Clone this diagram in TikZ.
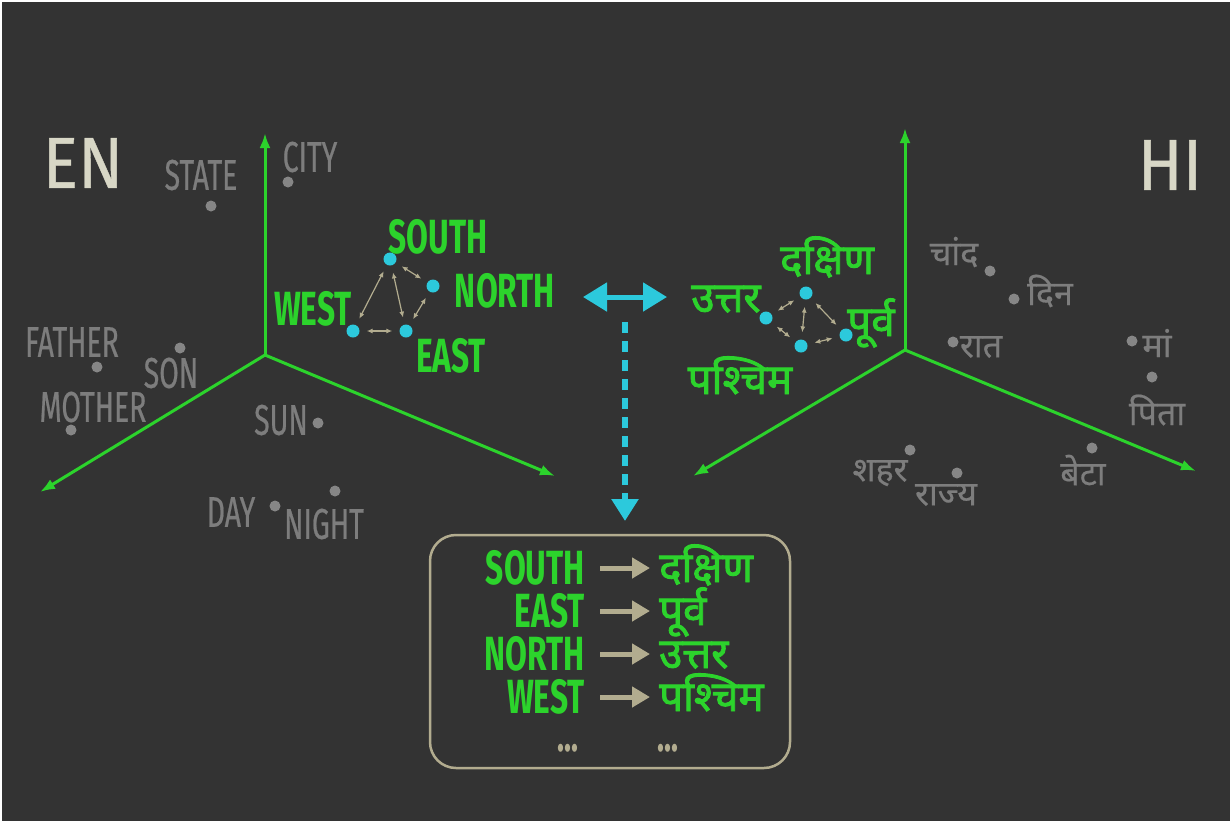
\documentclass[tikz,border=0pt]{standalone}
\usepackage{fontspec}
\setmainfont{Fira Sans}[FakeStretch=0.66]
\newfontfamily\grayfont{Fira Sans}[FakeStretch=0.66, FakeBold=0.5]
\newfontfamily\langfont{Fira Sans}[FakeStretch=0.92, FakeBold=0.6]
\newfontfamily\hindi[Script=Devanagari, FakeBold=0.5]{Noto Sans}
\newfontfamily\hindibold[Script=Devanagari, FakeBold=2]{Noto Sans}
\usetikzlibrary{arrows.meta}

\definecolor{bgdark}{HTML}{333333}
\definecolor{wordgreen}{HTML}{2CD32C}
\definecolor{wordgray}{HTML}{7D7D7D}
\definecolor{dotgray}{HTML}{868686}
\definecolor{langbeige}{HTML}{D8D7C6}
\definecolor{dotcyan}{HTML}{2CC9DC}
\definecolor{linktan}{HTML}{B2AC8F}

\begin{document}
\begin{tikzpicture}[x=1pt, y=-1pt,
  axis/.style={draw=wordgreen, line width=3pt, -{Latex[length=15pt,width=11pt]}},
  langlabel/.style={text=langbeige, font=\langfont\fontsize{72}{72}\selectfont, inner sep=0pt},
  grayword/.style={text=wordgray, font=\grayfont\fontsize{43}{43}\selectfont, inner sep=0pt},
  grayhindi/.style={text=wordgray, font=\hindi\fontsize{34}{34}\selectfont, inner sep=0pt},
  greenword/.style={text=wordgreen, font=\bfseries\fontsize{48}{48}\selectfont, inner sep=0pt, text height=32pt, text depth=0pt},
  greenhindi/.style={text=wordgreen, font=\hindibold\fontsize{42}{42}\selectfont, inner sep=0pt, text height=28pt, text depth=0pt},
  graydot/.style={circle, fill=dotgray, minimum size=11pt, inner sep=0pt},
  cyandot/.style={circle, fill=dotcyan, minimum size=13pt, inner sep=0pt},
  link/.style={draw=linktan, line width=1.2pt, {Latex[length=6pt,width=5pt]}-{Latex[length=6pt,width=5pt]}, shorten <=7pt, shorten >=7pt},
  maparrow/.style={draw=dotcyan, line width=5pt, {Triangle[length=24pt,width=28pt]}-{Triangle[length=24pt,width=28pt]}},
  dashlink/.style={draw=dotcyan, line width=6pt, dash pattern=on 11pt off 8pt, -{Triangle[length=22pt,width=26pt]}},
  rowarrow/.style={draw=linktan, line width=5pt, -{Triangle[length=18pt,width=20pt]}, shorten <=15pt, shorten >=9pt},
  ellipsis/.style={text=linktan, font=\bfseries\fontsize{44}{44}\selectfont, inner sep=0pt, text height=6pt, text depth=0pt}]

\useasboundingbox (0,0) rectangle (1232,823);
\fill[white] (0,0) rectangle (1232,823);
\fill[bgdark] (2,2) rectangle (1230,821);

% language labels
\node[langlabel] (en) at (83,163) {EN};
\node[langlabel] (hi) at (1170,165) {HI};

% english space
\coordinate (lo) at (265,355);
\coordinate (lup) at (265,133);
\coordinate (lleft) at (40,492);
\coordinate (lright) at (555,476);
\draw[axis] (lo) -- (lup);
\draw[axis] (lo) -- (lleft);
\draw[axis] (lo) -- (lright);

\foreach \name/\wx/\wy/\dx/\dy/\txt in {State/201/175/211/206/STATE, City/310/157/288/182/CITY,
    Father/72/342/97/367/FATHER, Son/171/373/180/348/SON, Mother/93/407/71/430/MOTHER,
    Sun/281/420/318/423/SUN, Day/231/512/275/506/DAY, Night/324/524/335/491/NIGHT} {
  \node[grayword] (w\name) at (\wx,\wy) {\txt};
  \node[graydot] (d\name) at (\dx,\dy) {};
}

\node[cyandot] (south) at (390,259) {};
\node[cyandot] (north) at (433,286) {};
\node[cyandot] (west) at (353,331) {};
\node[cyandot] (east) at (406,331) {};
\node[greenword] (southW) at (438,237) {SOUTH};
\node[greenword] (northW) at (505,291) {NORTH};
\node[greenword] (westW) at (313,309) {WEST};
\node[greenword] (eastW) at (451,356) {EAST};
\draw[link] (south) -- (north);
\draw[link] (south) -- (west);
\draw[link] (south) -- (east);
\draw[link] (north) -- (east);
\draw[link] (west) -- (east);

% hindi space
\coordinate (ro) at (905,350);
\coordinate (rup) at (905,128);
\coordinate (rleft) at (693,476);
\coordinate (rright) at (1196,471);
\draw[axis] (ro) -- (rup);
\draw[axis] (ro) -- (rleft);
\draw[axis] (ro) -- (rright);

\foreach \name/\wx/\wy/\dx/\dy/\txt in {Moon/954/252/990/271/चांद, Din/1050/291/1014/299/दिन,
    Raat/981/347/953/342/रात, Maa/1157/343/1132/341/मां, Pita/1157/410/1152/377/पिता,
    Beta/1083/470/1092/448/बेटा, Shahar/880/473/910/450/शहर, Rajya/946/495/957/473/राज्य} {
  \node[grayhindi] (w\name) at (\wx,\wy) {\txt};
  \node[graydot] (d\name) at (\dx,\dy) {};
}

\node[cyandot] (dakshin) at (806,293) {};
\node[cyandot] (uttar) at (766,318) {};
\node[cyandot] (purv) at (846,335) {};
\node[cyandot] (paschim) at (801,346) {};
\node[greenhindi] (dakshinW) at (827,260) {दक्षिण};
\node[greenhindi] (uttarW) at (726,298) {उत्तर};
\node[greenhindi] (purvW) at (871,322) {पूर्व};
\node[greenhindi] (paschimW) at (740,380) {पश्चिम};
\draw[link] (dakshin) -- (uttar);
\draw[link] (dakshin) -- (paschim);
\draw[link] (dakshin) -- (purv);
\draw[link] (uttar) -- (paschim);
\draw[link] (paschim) -- (purv);

% alignment arrows
\coordinate (mapL) at (583,297);
\coordinate (mapR) at (667,297);
\draw[maparrow] (mapL) -- (mapR);
\coordinate (dashTop) at (625,322);
\coordinate (dashTip) at (625,521);
\draw[dashlink] (dashTop) -- (dashTip);

% dictionary
\node[draw=linktan, line width=2.5pt, rounded corners=26pt, minimum width=360pt, minimum height=233pt] (dict) at (610,651.5) {};
\foreach \ew/\hw/\y [count=\i] in {SOUTH/दक्षिण/568, EAST/पूर्व/611, NORTH/उत्तर/654, WEST/पश्चिम/697} {
  \node[greenword, anchor=east] (en\i) at (585,\y) {\ew};
  \node[greenhindi, anchor=west] (hw\i) at (659,\y) {\hw};
  \draw[rowarrow] (en\i) -- (hw\i);
}
\node[ellipsis] (moreEn) at (568,748) {...};
\node[ellipsis] (moreHi) at (668,748) {...};
\end{tikzpicture}
\end{document}
